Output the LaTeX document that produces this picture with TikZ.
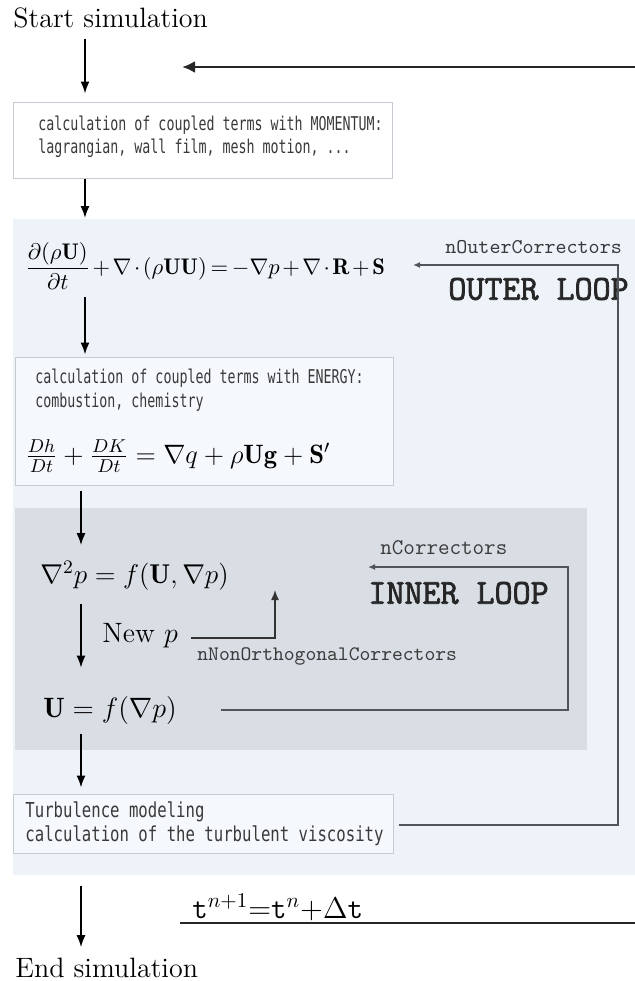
\documentclass[tikz,border=0pt]{standalone}
\usepackage{fix-cm}
\usepackage{amsmath}
\usepackage{fontspec}
\usetikzlibrary{arrows.meta}

% condensed mono for the solver step descriptions
\newfontfamily\codefont[FakeStretch=0.70]{DejaVu Sans Mono}
\newfontfamily\turbfont[FakeStretch=0.76]{DejaVu Sans Mono}
% heavy typewriter for the loop titles
\newfontfamily\loopfont[FakeBold=2.2]{Latin Modern Mono}

\definecolor{outerbg}{HTML}{EEF3FA}
\definecolor{innerbg}{HTML}{D9DEE5}
\definecolor{boxline}{HTML}{C6CBD3}
\definecolor{loopline}{HTML}{50555B}
\definecolor{codetext}{HTML}{3A3A3A}

\begin{document}
\begin{tikzpicture}[x=0.5pt,y=-0.5pt,
  flow/.style={draw=black, line width=0.8pt, -{Latex[length=6pt,width=4.5pt]}},
  loopback/.style={draw=loopline, line width=0.7pt, -{Latex[length=3.5pt,width=3pt]}},
  stepbox/.style={draw=boxline, line width=0.5pt, rectangle, inner sep=0pt},
  code/.style={inner sep=0pt, anchor=west, text=codetext, font=\codefont\fontsize{9.5}{11}\selectfont},
  turbcode/.style={inner sep=0pt, anchor=west, text=codetext, font=\turbfont\fontsize{10.3}{12}\selectfont},
  eqn/.style={inner sep=0pt, anchor=west, font=\fontsize{14}{16}\selectfont},
  tag/.style={inner sep=0pt, anchor=west, text=codetext, font=\ttfamily\fontsize{10.5}{12}\selectfont},
  looptitle/.style={inner sep=0pt, anchor=west, text=black!85, font=\loopfont\fontsize{17.5}{20}\selectfont},
  label/.style={inner sep=0pt, anchor=base west, font=\fontsize{14}{16}\selectfont}
]
\useasboundingbox (0,0) rectangle (635,981);
\clip (0,0) rectangle (635,981);
\fill[white] (0,0) rectangle (635,981);

% spines of the main downward flow
\coordinate (upper) at (85,0);
\coordinate (lower) at (81,0);

% start
\node[label] (start) at (13,27) {Start simulation};

% return arrow of the time loop
\coordinate (topright) at (645,67);
\coordinate (toptip) at (182,67);
\draw[line width=1.4pt, draw=black!85, -{Latex[length=6.5pt,width=6pt]}] (topright) -- (toptip);

% momentum coupling box
\node[stepbox, fill=white, minimum width=189.5pt, minimum height=38pt] (mombox) at (202.5,140) {};
\node[code] (mom1) at (38,125) {calculation of coupled terms with MOMENTUM:};
\node[code] (mom2) at (38,148) {lagrangian, wall film, mesh motion, ...};

% outer loop region
\node[fill=outerbg, inner sep=0pt, minimum width=330pt, minimum height=328pt, anchor=north west] (outer) at (13,219) {};

\node[inner sep=0pt, anchor=west, font=\fontsize{11.3}{14}\selectfont] (momeq) at (25,266)
  {$\medmuskip=2mu\thickmuskip=3mu\displaystyle\frac{\partial(\rho\mathbf{U})}{\partial t}+\nabla\cdot(\rho\mathbf{U}\mathbf{U})=-\nabla p+\nabla\cdot\mathbf{R}+\mathbf{S}$};

\node[tag] (outertag) at (445,247) {nOuterCorrectors};
\node[looptitle] (outertitle) at (448,289) {OUTER LOOP};

% energy coupling box
\node[stepbox, fill=outerbg!60!white, minimum width=189pt, minimum height=64pt] (enbox) at (204,421) {};
\node[code] (en1) at (35,378) {calculation of coupled terms with ENERGY:};
\node[code] (en2) at (35,402) {combustion, chemistry};
\node[eqn, font=\fontsize{13.3}{16}\selectfont] (eneq) at (25,456)
  {$\tfrac{Dh}{Dt}+\tfrac{DK}{Dt}=\nabla q+\rho\mathbf{U}\mathbf{g}+\mathbf{S}'$};

% inner (pressure corrector) loop region
\node[fill=innerbg, inner sep=0pt, minimum width=286pt, minimum height=121pt, anchor=north west] (inner) at (15,508) {};

\node[eqn, font=\fontsize{13.6}{16}\selectfont] (peq) at (40,576) {$\nabla^2 p=f(\mathbf{U},\nabla p)$};
\node[eqn] (newp) at (102,636) {New $p$};
\node[tag, font=\ttfamily\fontsize{10.3}{12}\selectfont] (nonorth) at (197,656) {nNonOrthogonalCorrectors};
\node[eqn] (ueq) at (43,710) {$\mathbf{U}=f(\nabla p)$};

\node[tag, font=\ttfamily\fontsize{11.2}{13}\selectfont] (innertag) at (380,548) {nCorrectors};
\node[looptitle] (innertitle) at (368,593) {INNER LOOP};

% turbulence box
\node[stepbox, fill=outerbg!60!white, minimum width=190pt, minimum height=29.5pt] (turbbox) at (203,823.5) {};
\node[turbcode] (turb1) at (25,812) {Turbulence modeling};
\node[turbcode] (turb2) at (25,836) {calculation of the turbulent viscosity};

% time advance
\node[inner sep=0pt, anchor=west, font=\fontsize{15}{17}\selectfont] (tstep) at (192,907)
  {$\mathtt{t}^{n+1}{=}\mathtt{t}^{n}{+}\Delta\mathtt{t}$};
\coordinate (tleft) at (180,923);
\coordinate (tright) at (645,923);
\draw[line width=1.3pt, draw=black!85] (tleft) -- (tright);

% end
\node[label] (endsim) at (15,977) {End simulation};

% main flow
\draw[flow, shorten <=5.5pt, shorten >=4pt] (start.south -| upper) -- (mombox.north -| upper);
\draw[flow, shorten >=0.5pt] (mombox.south -| upper) -- (outer.north -| upper);
\draw[flow, shorten <=3.5pt, shorten >=1pt] (momeq.south -| upper) -- (enbox.north -| upper);
\draw[flow, shorten <=2.5pt, shorten >=8pt] (enbox.south -| lower) -- (peq.north -| lower);
\draw[flow, shorten <=6.5pt, shorten >=14pt] (peq.south -| lower) -- (ueq.north -| lower);
\draw[flow, shorten <=5pt, shorten >=3pt] (ueq.south -| lower) -- (turbbox.north -| lower);
\draw[flow, shorten <=16pt, shorten >=5pt] (turbbox.south -| lower) -- (endsim.north -| lower);

% non-orthogonal corrector loop
\coordinate (nonorthtip) at (275,590);
\draw[loopback, draw=black!80, -{Latex[length=5pt,width=4pt]}] ([xshift=6.5pt,yshift=-1pt]newp.east) -| (nonorthtip);

% pressure corrector loop
\coordinate (innercorner) at (568,567);
\coordinate (innertip) at (368,567);
\draw[loopback] ([xshift=22pt]ueq.east) -| (innercorner) -- (innertip);

% outer corrector loop
\coordinate (outercorner) at (618,265);
\coordinate (outertip) at (413,265);
\draw[loopback] ([xshift=2.5pt,yshift=-0.75pt]turbbox.east) -| (outercorner) -- (outertip);
\end{tikzpicture}
\end{document}
